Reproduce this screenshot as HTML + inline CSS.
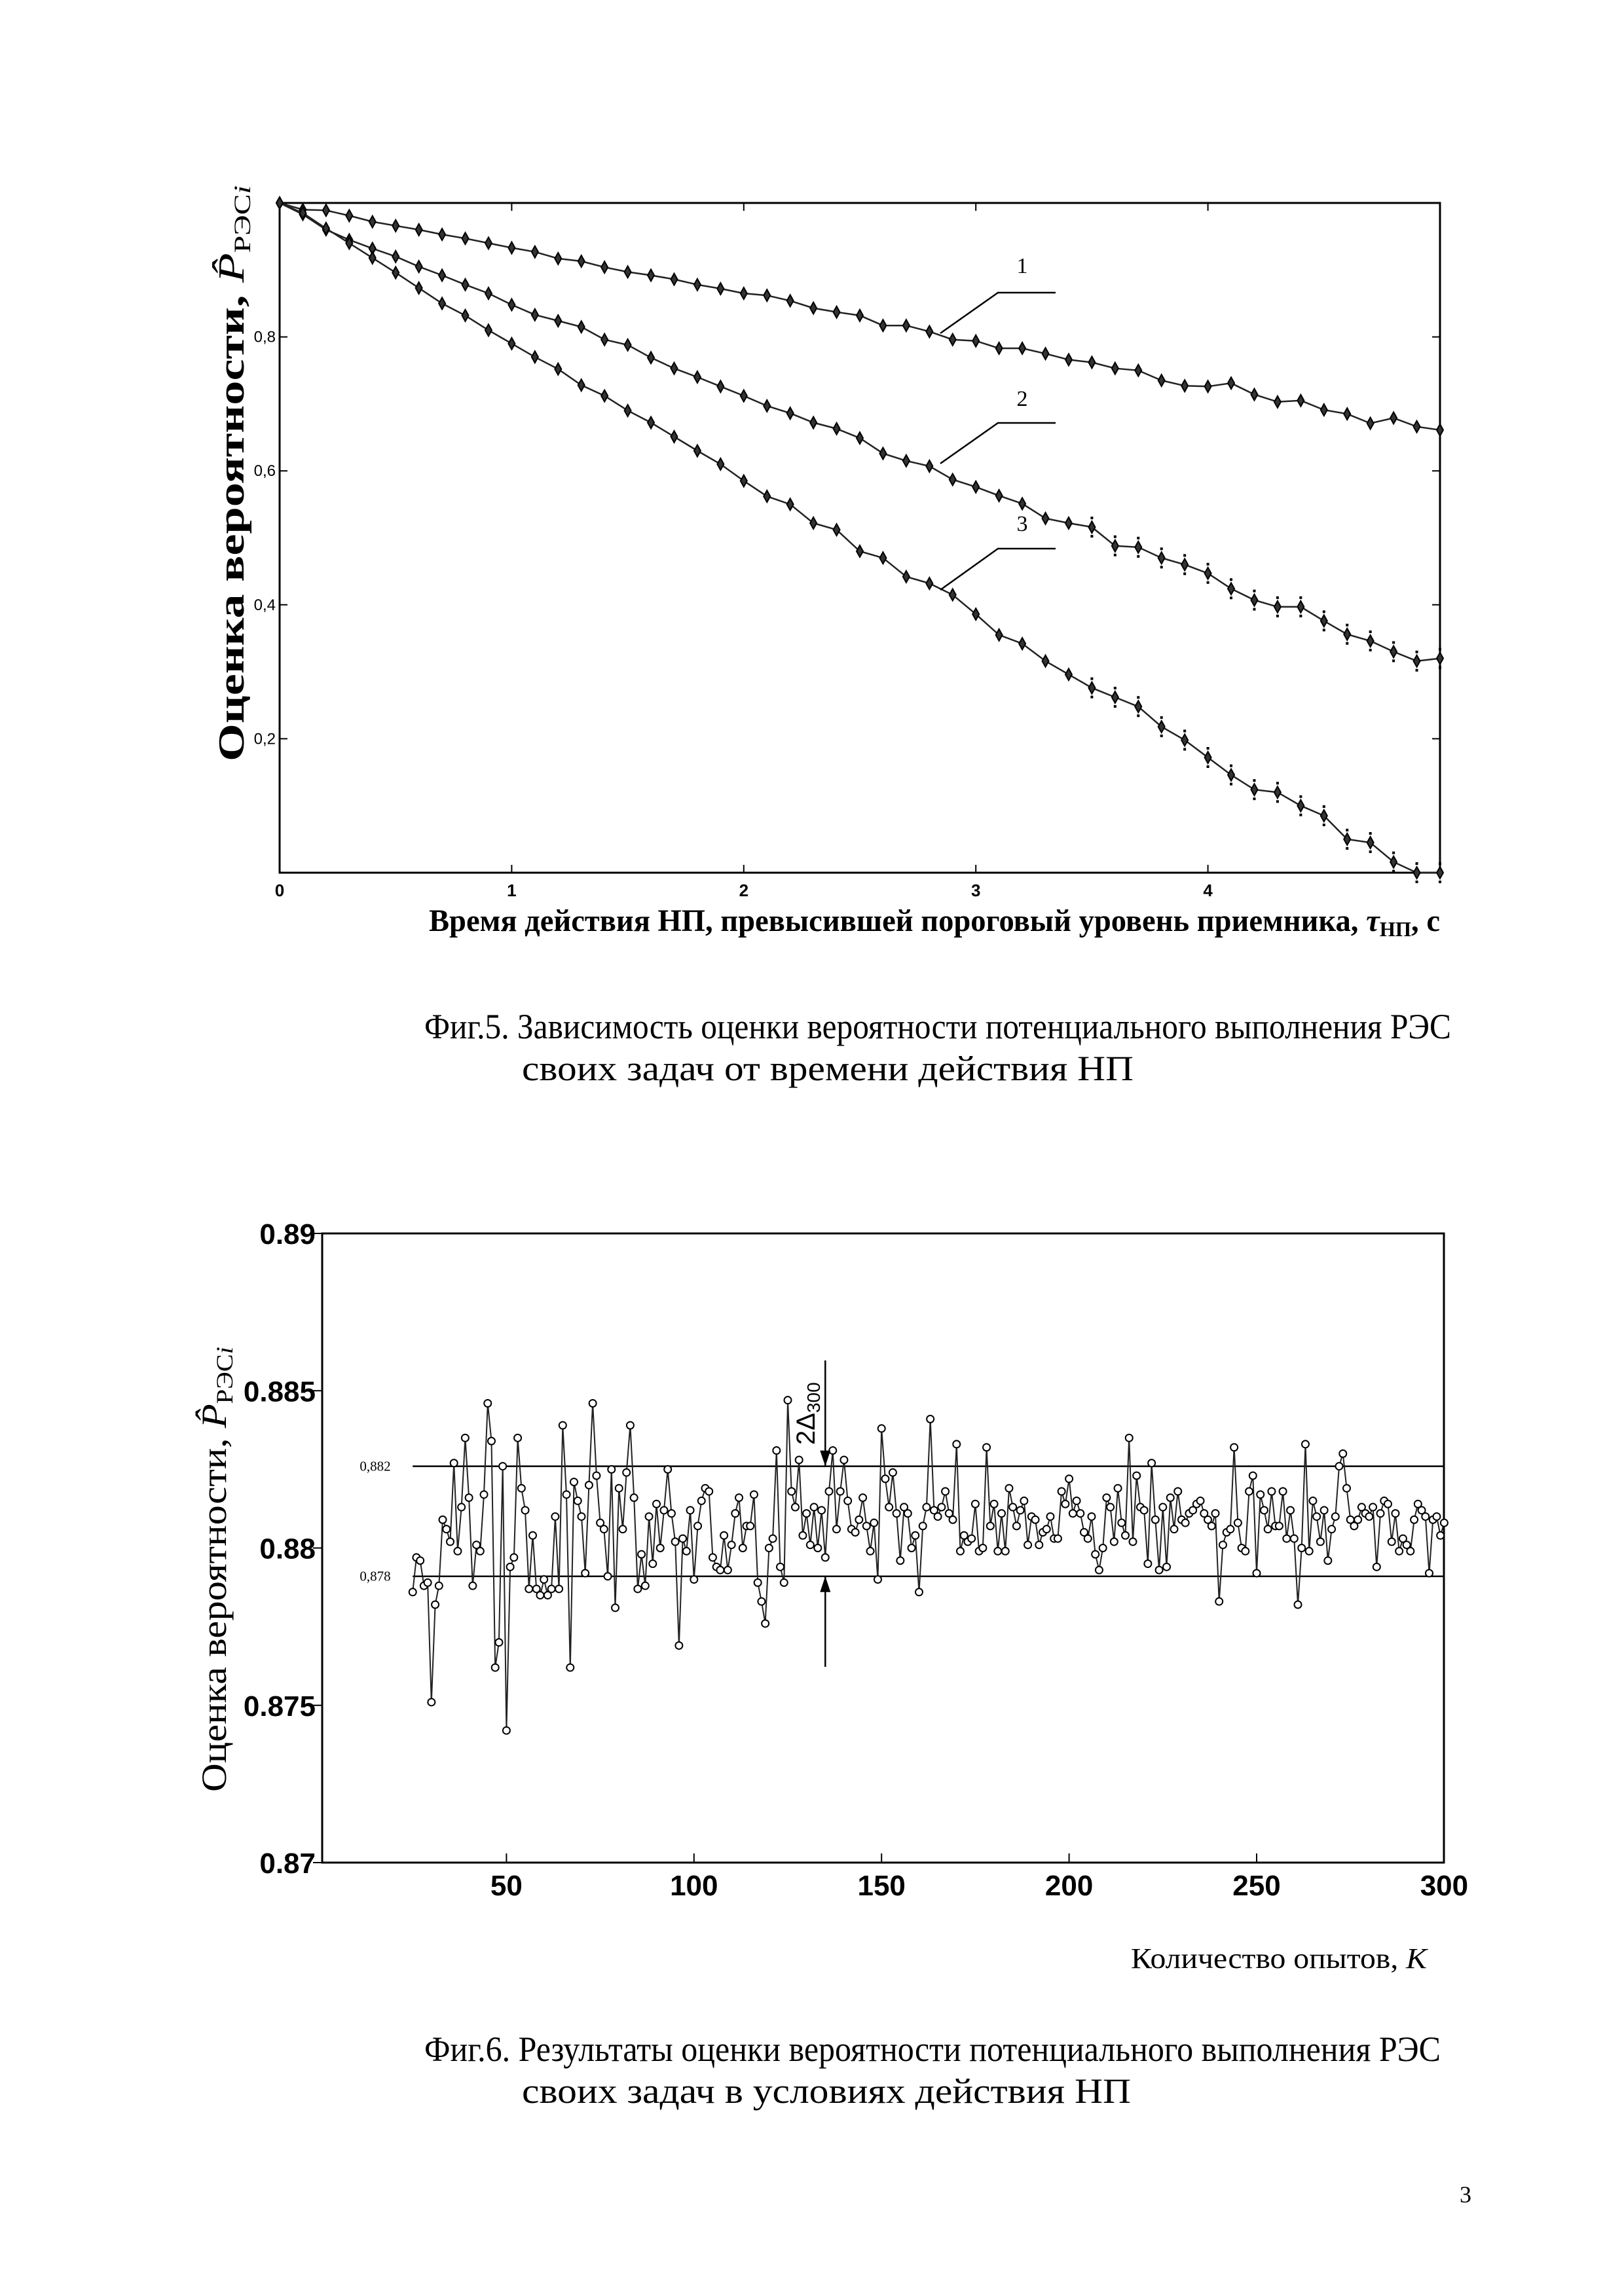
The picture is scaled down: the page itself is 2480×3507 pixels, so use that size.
<!DOCTYPE html>
<html><head><meta charset="utf-8"><style>
html,body{margin:0;padding:0;background:#fff}
svg{display:block}
</style></head><body>
<svg id="page" xmlns="http://www.w3.org/2000/svg" width="2480" height="3507" viewBox="0 0 2480 3507">
<rect x="0" y="0" width="2480" height="3507" fill="#fff"/>
<g id="fig5"></g>
<g id="fig6"></g>
<text x="1432" y="1586" text-anchor="middle" font-family="Liberation Serif, serif" font-size="54" textLength="1568" lengthAdjust="spacingAndGlyphs">Фиг.5. Зависимость оценки  вероятности потенциального выполнения РЭС</text>
<text x="1264" y="1650" text-anchor="middle" font-family="Liberation Serif, serif" font-size="54" textLength="934" lengthAdjust="spacingAndGlyphs">своих задач от времени действия НП</text>
<text x="1424" y="3148" text-anchor="middle" font-family="Liberation Serif, serif" font-size="54" textLength="1552" lengthAdjust="spacingAndGlyphs">Фиг.6. Результаты оценки вероятности потенциального выполнения РЭС</text>
<text x="1262" y="3212" text-anchor="middle" font-family="Liberation Serif, serif" font-size="54" textLength="930" lengthAdjust="spacingAndGlyphs">своих задач в условиях действия НП</text>
<text x="2238" y="3364" text-anchor="middle" font-family="Liberation Serif, serif" font-size="36">3</text>
</svg>
<script>
const NS = 'http://www.w3.org/2000/svg';
// ---------- Figure 5 data ----------
const f5X = [0,0.1,0.2,0.3,0.4,0.5,0.6,0.7,0.8,0.9,1.0,1.1,1.2,1.3,1.4,1.5,1.6,1.7,1.8,1.9,2.0,2.1,2.2,2.3,2.4,2.5,2.6,2.7,2.8,2.9,3.0,3.1,3.2,3.3,3.4,3.5,3.6,3.7,3.8,3.9,4.0,4.1,4.2,4.3,4.4,4.5,4.6,4.7,4.8,4.9,5.0];
const f5S1 = [1.0,0.99,0.989,0.981,0.972,0.966,0.96,0.953,0.947,0.94,0.933,0.927,0.917,0.913,0.904,0.897,0.892,0.886,0.878,0.872,0.865,0.862,0.854,0.843,0.837,0.832,0.817,0.817,0.808,0.796,0.794,0.783,0.783,0.775,0.766,0.762,0.753,0.75,0.735,0.727,0.726,0.731,0.714,0.703,0.705,0.691,0.685,0.671,0.679,0.666,0.661];
const f5S2 = [1.0,0.983,0.96,0.945,0.932,0.92,0.905,0.892,0.878,0.865,0.848,0.833,0.824,0.815,0.796,0.788,0.769,0.753,0.74,0.726,0.712,0.697,0.686,0.672,0.663,0.649,0.626,0.615,0.607,0.587,0.576,0.563,0.551,0.529,0.522,0.516,0.488,0.486,0.47,0.46,0.447,0.424,0.407,0.397,0.397,0.376,0.356,0.346,0.33,0.316,0.32];
const f5S3 = [1.0,0.985,0.962,0.94,0.918,0.896,0.873,0.85,0.832,0.81,0.79,0.77,0.752,0.728,0.712,0.69,0.672,0.651,0.63,0.61,0.585,0.562,0.55,0.522,0.512,0.48,0.47,0.442,0.432,0.415,0.386,0.355,0.342,0.316,0.296,0.276,0.262,0.248,0.218,0.198,0.172,0.146,0.124,0.12,0.1,0.085,0.05,0.045,0.016,0.0,0.0];
const f5XTicks = [0,1,2,3,4];
const f5XTickLabels = ['0','1','2','3','4'];
const f5YTicks = [0.2,0.4,0.6,0.8];
const f5YTickLabels = ['0,2','0,4','0,6','0,8'];

// ---------- Figure 6 data ----------
const f6Start = 25;
const f6Vals = [
0.8786,0.8797,0.8796,0.8788,0.8789,0.8751,0.8782,0.8788,0.8809,0.8806,0.8802,0.8827,0.8799,0.8813,0.8835,0.8816,0.8788,0.8801,0.8799,0.8817,0.8846,0.8834,0.8762,0.8770,0.8826,0.8742,0.8794,0.8797,0.8835,0.8819,0.8812,0.8787,0.8804,0.8787,0.8785,0.8790,0.8785,0.8787,0.8810,0.8787,0.8839,0.8817,0.8762,0.8821,0.8815,0.8810,0.8792,0.8820,0.8846,
0.8823,0.8808,0.8806,0.8791,0.8825,0.8781,0.8819,0.8806,0.8824,0.8839,0.8816,0.8787,0.8798,0.8788,0.8810,0.8795,0.8814,0.8800,0.8812,0.8825,0.8811,0.8802,0.8769,0.8803,0.8799,0.8812,
0.8790,0.8807,0.8815,0.8819,0.8818,0.8797,0.8794,0.8793,0.8804,0.8793,0.8801,0.8811,0.8816,0.8800,0.8807,0.8807,0.8817,0.8789,0.8783,0.8776,0.8800,0.8803,0.8831,0.8794,0.8789,0.8847,0.8818,0.8813,0.8828,0.8804,0.8811,0.8801,0.8813,0.8800,0.8812,0.8797,0.8818,0.8831,0.8806,0.8818,0.8828,0.8815,0.8806,0.8805,0.8809,0.8816,0.8807,0.8799,0.8808,0.8790,0.8838,0.8822,0.8813,0.8824,0.8811,0.8796,0.8813,0.8811,0.8800,0.8804,0.8786,0.8807,0.8813,0.8841,0.8812,0.8810,0.8813,0.8818,0.8811,0.8809,0.8833,
0.8799,0.8804,0.8802,0.8803,0.8814,0.8799,0.8800,0.8832,0.8807,0.8814,0.8799,0.8811,0.8799,0.8819,0.8813,0.8807,0.8812,0.8815,0.8801,0.8810,0.8809,0.8801,0.8805,0.8806,0.8810,0.8803,0.8803,0.8818,0.8814,0.8822,0.8811,0.8815,0.8811,0.8805,0.8803,0.8810,0.8798,0.8793,0.8800,0.8816,0.8813,0.8802,0.8819,0.8808,0.8804,0.8835,0.8802,0.8823,0.8813,0.8812,0.8795,0.8827,0.8809,0.8793,0.8813,0.8794,0.8816,0.8806,0.8818,0.8809,0.8808,0.8811,0.8812,0.8814,0.8815,0.8811,0.8809,0.8807,0.8811,
0.8783,0.8801,0.8805,0.8806,0.8832,0.8808,0.8800,0.8799,0.8818,0.8823,0.8792,0.8817,0.8812,0.8806,0.8818,0.8807,0.8807,0.8818,0.8803,0.8812,0.8803,0.8782,0.8800,0.8833,0.8799,0.8815,0.8810,0.8802,0.8812,0.8796,0.8806,0.8810,0.8826,0.8830,0.8819,0.8809,0.8807,0.8809,0.8813,0.8811,0.8810,0.8813,0.8794,0.8811,0.8815,0.8814,0.8802,0.8811,0.8799,0.8803,0.8801,0.8799,0.8809,0.8814,0.8812,0.8810,0.8792,0.8809,0.8810,0.8804,0.8808];
const f6XTicks = [50,100,150,200,250,300];
const f6XTickLabels = ['50','100','150','200','250','300'];
const f6YTicks = [0.87,0.875,0.88,0.885,0.89];
const f6YTickLabels = ['0.87','0.875','0.88','0.885','0.89'];
const f6Bounds = [0.8826,0.8791];
const f6BoundLabels = ['0,882','0,878'];
const f6ArrowK = [135];

function el(parent, tag, attrs, text){
  const e = document.createElementNS(NS, tag);
  for (const k in attrs) e.setAttribute(k, attrs[k]);
  if (text !== undefined) e.textContent = text;
  parent.appendChild(e);
  return e;
}

// ================= Figure 5 =================
(function(){
  const g = document.getElementById('fig5');
  const L=427, R=2199, T=310, B=1333;
  const xs = v => L + v/5.0*(R-L);
  const ys = v => B - v*(B-T);
  const frame = el(g,'rect',{x:L,y:T,width:R-L,height:B-T,fill:'none',stroke:'#000','stroke-width':3});
  
  
  f5XTicks.forEach((t,i)=>{
    const tk = el(g,'path',{d:`M${xs(t)},${B}v-12M${xs(t)},${T}v12`,stroke:'#000','stroke-width':2});
    
    
    const lb = el(g,'text',{x:xs(t),y:B+36,'text-anchor':'middle','font-family':'Liberation Sans Narrow, Liberation Sans, sans-serif','font-size':26,'font-weight':'bold'},f5XTickLabels[i]);
    
    
  });
  f5YTicks.forEach((t,i)=>{
    const tk = el(g,'path',{d:`M${L},${ys(t)}h12M${R},${ys(t)}h-12`,stroke:'#000','stroke-width':2});
    
    
    const lb = el(g,'text',{x:L-6,y:ys(t)+8,'text-anchor':'end','font-family':'Liberation Sans Narrow, Liberation Sans, sans-serif','font-size':24},f5YTickLabels[i]);
    
    
  });
  const series = [[f5S1,'fig5-series-1'],[f5S2,'fig5-series-2'],[f5S3,'fig5-series-3']];
  series.forEach(([vals,name])=>{
    const sg = el(g,'g',{});
    
    
    const pts = vals.map((v,i)=>`${xs(f5X[i]).toFixed(1)},${ys(v).toFixed(1)}`).join(' ');
    const pl = el(sg,'polyline',{points:pts,fill:'none',stroke:'#222','stroke-width':2.5});
    
    
    vals.forEach((v,i)=>{
      const cx=xs(f5X[i]), cy=ys(v);
      const m = el(sg,'path',{d:`M${cx},${cy-9}L${cx+5},${cy}L${cx},${cy+9}L${cx-5},${cy}Z`,fill:'#333',stroke:'#000','stroke-width':2});
      
      
      if (f5X[i] >= 3.5 && v < 0.6) {
        const d = el(sg,'path',{d:`M${cx},${cy-16}v4M${cx},${cy+12}v4`,stroke:'#000','stroke-width':4});
        
        
      }
    });
  });
  const labs = [['1',417,447,509],['2',620,646,708],['3',811,838,901]];
  labs.forEach(([t,ty,hy,dy])=>{
    const lb = el(g,'text',{x:1561,y:ty,'text-anchor':'middle','font-family':'Liberation Serif, serif','font-size':34},t);
    
    
    const ln = el(g,'path',{d:`M1612,${hy}H1524L1436,${dy}`,fill:'none',stroke:'#000','stroke-width':2.5});
    
    
  });
  const xl = el(g,'text',{x:655,y:1422,'font-family':'Liberation Serif, serif','font-size':48,'font-weight':'bold',textLength:1544,lengthAdjust:'spacingAndGlyphs'});
  
  
  xl.innerHTML = 'Время действия НП, превысившей пороговый уровень приемника, <tspan font-style="italic">τ</tspan><tspan font-size="32" dy="8">НП</tspan><tspan dy="-8">, с</tspan>';
  const yl = el(g,'text',{transform:'translate(372,1163) rotate(-90)','font-family':'Liberation Serif, serif','font-size':56,'font-weight':'bold',textLength:880,lengthAdjust:'spacingAndGlyphs'});
  
  
  yl.innerHTML = 'Оценка вероятности, <tspan font-style="italic" font-weight="normal">P̂</tspan><tspan font-size="36" dy="10" font-weight="normal">РЭС</tspan><tspan font-size="36" font-style="italic" font-weight="normal">i</tspan>';
})();

// ================= Figure 6 =================
(function(){
  const g = document.getElementById('fig6');
  const L=492, R=2205, T=1884, B=2845;
  const xs = k => 487 + k*5.728;
  const ys = v => B - (v-0.87)/0.02*(B-T);
  const frame = el(g,'rect',{x:L,y:T,width:R-L,height:B-T,fill:'none',stroke:'#000','stroke-width':3});
  
  
  f6XTicks.forEach((t,i)=>{
    const tk = el(g,'path',{d:`M${xs(t)},${B}v-14`,stroke:'#000','stroke-width':2});
    
    
    const lb = el(g,'text',{x:xs(t),y:B+50,'text-anchor':'middle','font-family':'Liberation Sans Narrow, Liberation Sans, sans-serif','font-size':44,'font-weight':'bold'},f6XTickLabels[i]);
    
    
  });
  f6YTicks.forEach((t,i)=>{
    const tk = el(g,'path',{d:`M${L},${ys(t)}h-14`,stroke:'#000','stroke-width':2});
    
    
    const lb = el(g,'text',{x:L-10,y:ys(t)+16,'text-anchor':'end','font-family':'Liberation Sans Narrow, Liberation Sans, sans-serif','font-size':44,'font-weight':'bold'},f6YTickLabels[i]);
    
    
  });
  f6Bounds.forEach((b,i)=>{
    const ln = el(g,'line',{x1:xs(25),x2:R,y1:ys(b),y2:ys(b),stroke:'#000','stroke-width':2.5});
    
    
    const lb = el(g,'text',{x:573,y:ys(b)+7,'text-anchor':'middle','font-family':'Liberation Serif, serif','font-size':21},f6BoundLabels[i]);
    
    
  });
  const pts = f6Vals.map((v,i)=>`${xs(f6Start+i).toFixed(1)},${ys(v).toFixed(1)}`).join(' ');
  const pl = el(g,'polyline',{points:pts,fill:'none',stroke:'#222','stroke-width':2});
  
  
  f6Vals.forEach((v,i)=>{
    const c = el(g,'circle',{cx:xs(f6Start+i),cy:ys(v),r:5.5,fill:'#fff',stroke:'#000','stroke-width':2});
    
    
  });
  const ax = xs(f6ArrowK[0]);
  const yu = ys(f6Bounds[0]), yd = ys(f6Bounds[1]);
  const a1 = el(g,'path',{d:`M${ax},2078V${yu}`,stroke:'#000','stroke-width':2.5,fill:'none'});
  
  
  const h1 = el(g,'path',{d:`M${ax-8},${yu-24}L${ax+8},${yu-24}L${ax},${yu}Z`,fill:'#000'});
  
  
  const a2 = el(g,'path',{d:`M${ax},2546V${yd}`,stroke:'#000','stroke-width':2.5,fill:'none'});
  
  
  const h2 = el(g,'path',{d:`M${ax-8},${yd+24}L${ax+8},${yd+24}L${ax},${yd}Z`,fill:'#000'});
  
  
  const dl = el(g,'text',{transform:`translate(1244,2207) rotate(-90)`,'font-family':'Liberation Sans, sans-serif','font-size':40});
  
  
  dl.innerHTML = '2Δ<tspan font-size="28" dy="8">300</tspan>';
  const xl = el(g,'text',{x:1727,y:3006,'font-family':'Liberation Serif, serif','font-size':44,textLength:452,lengthAdjust:'spacingAndGlyphs'});
  
  
  xl.innerHTML = 'Количество опытов, <tspan font-style="italic">K</tspan>';
  const yl = el(g,'text',{transform:'translate(345,2737) rotate(-90)','font-family':'Liberation Serif, serif','font-size':54,textLength:680,lengthAdjust:'spacingAndGlyphs'});
  
  
  yl.innerHTML = 'Оценка вероятности, <tspan font-style="italic">P̂</tspan><tspan font-size="36" dy="10">РЭС</tspan><tspan font-size="36" font-style="italic">i</tspan>';
})();
</script>
</body></html>
